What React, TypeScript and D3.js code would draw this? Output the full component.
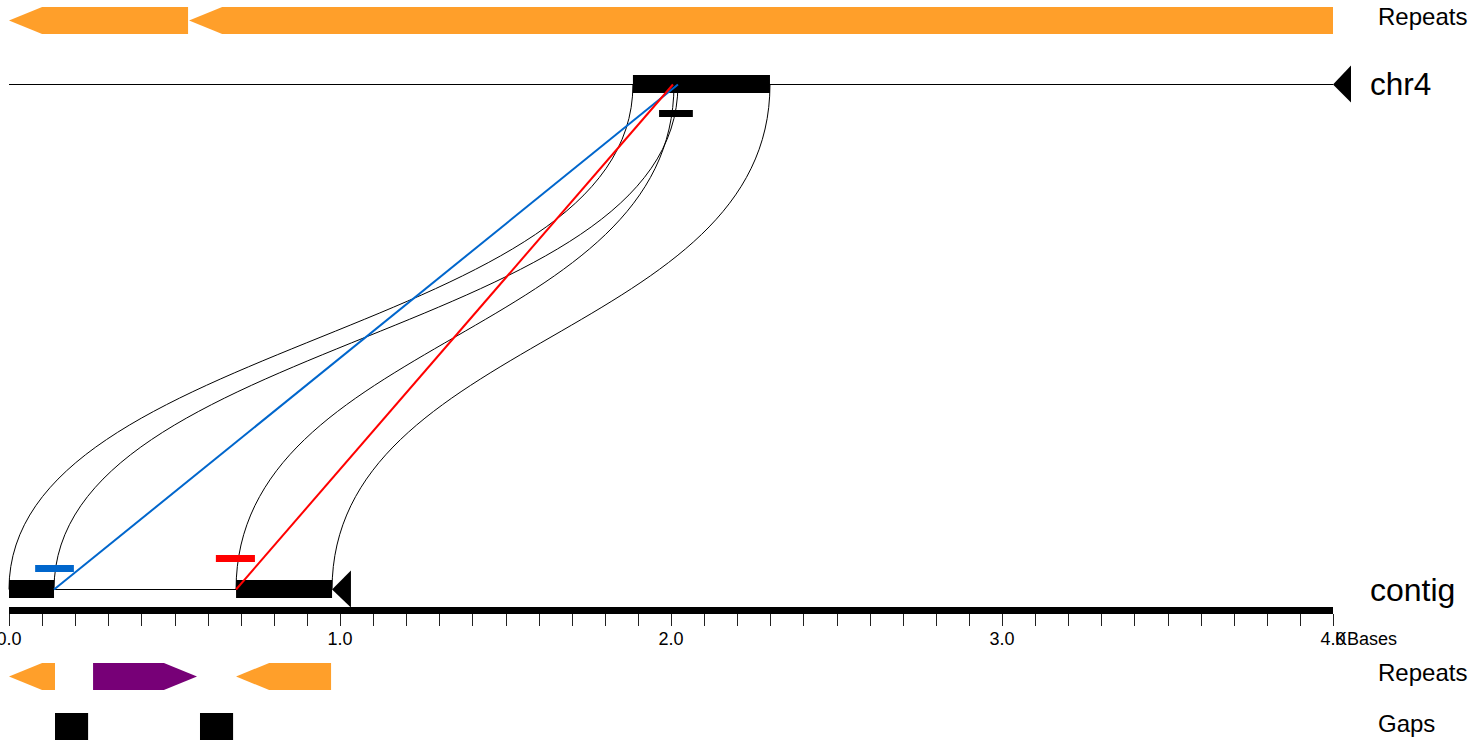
import React from "react";
import * as d3 from "d3";

// ---- data (kilobases) ----
const axisDomain = [0, 4.0];
const tickStep = 0.1;
const majorTicks = [0, 1, 2, 3, 4];

const topRepeats = [
  { start: 0.0, end: 0.541, strand: "-", color: "#FF9F2A" },
  { start: 0.544, end: 4.0, strand: "-", color: "#FF9F2A" },
];
const bottomRepeats = [
  { start: 0.0, end: 0.139, strand: "-", color: "#FF9F2A" },
  { start: 0.254, end: 0.568, strand: "+", color: "#770077" },
  { start: 0.686, end: 0.973, strand: "-", color: "#FF9F2A" },
];
const gaps = [
  { start: 0.139, end: 0.239 },
  { start: 0.577, end: 0.677 },
];

const chr4Blocks = [{ start: 1.885, end: 2.299 }];
const chr4Marks = [{ start: 1.964, end: 2.066 }];
const contigBlocks = [
  { start: 0.0, end: 0.136 },
  { start: 0.686, end: 0.976 },
];
const contigEnd = 1.033;
const contigMarks = [
  { start: 0.079, end: 0.196, color: "#0066CC", level: 1 },
  { start: 0.625, end: 0.743, color: "#FF0000", level: 2 },
];
// ribbons: contig [a0,a1] <-> chr4 [b0,b1]
const ribbons = [
  { a0: 0.0, a1: 0.136, b0: 1.885, b1: 2.021 },
  { a0: 0.686, a1: 0.976, b0: 2.009, b1: 2.299 },
];
const links = [
  { a: 0.136, b: 2.021, color: "#0066CC" },
  { a: 0.686, b: 2.006, color: "#FF0000" },
];

export default function App() {
  const W = 1470, H = 742;
  const x = d3.scaleLinear().domain(axisDomain).range([9, 1333]);
  const head = x(0.1) - x(0);
  const font = "'Liberation Sans', Arial, Helvetica, sans-serif";

  const chrY = 84.5, contigY = 589.5;
  const topRepY0 = 7, topRepY1 = 34;
  const botRepY0 = 663, botRepY1 = 690;
  const gapY0 = 713, gapY1 = 740;

  const arrowPoly = (s: number, e: number, strand: string, y0: number, y1: number) => {
    const x0 = x(s), x1 = x(e), yc = (y0 + y1) / 2;
    const h = Math.min(head, x1 - x0);
    if (strand === "-") {
      return [[x0, yc], [x0 + h, y0], [x1, y0], [x1, y1], [x0 + h, y1]].map(p => p.join(",")).join(" ");
    }
    return [[x0, y0], [x1 - h, y0], [x1, yc], [x1 - h, y1], [x0, y1]].map(p => p.join(",")).join(" ");
  };

  const link = d3.linkVertical<any, any>().x((d: any) => d[0]).y((d: any) => d[1]);

  const ticks = d3.range(0, 41).map(i => +(i * tickStep).toFixed(1));
  const fmt = d3.format(".1f");

  return (
    <svg width={W} height={H} style={{ position: "absolute", left: 0, top: 0, background: "#fff" }} fontFamily={font}>
      {/* top repeats */}
      {topRepeats.map((r, i) => (
        <polygon key={"tr" + i} points={arrowPoly(r.start, r.end, r.strand, topRepY0, topRepY1)} fill={r.color} />
      ))}
      <text x={1378} y={25} fontSize={24} fill="#000">Repeats</text>

      {/* chr4 line */}
      <line x1={x(0)} x2={x(4)} y1={chrY} y2={chrY} stroke="#000" strokeWidth={1} />
      <polygon points={`${x(4)},${chrY} ${x(4) + 18},${chrY - 19} ${x(4) + 18},${chrY + 18}`} fill="#000" />
      <text x={1370} y={95} fontSize={31.5} fill="#000">chr4</text>

      {/* ribbons */}
      {ribbons.map((r, i) => (
        <g key={"rb" + i} fill="none" stroke="#000" strokeWidth={1}>
          <path d={link({ source: [x(r.a0), contigY], target: [x(r.b0), chrY] }) as string} />
          <path d={link({ source: [x(r.a1), contigY], target: [x(r.b1), chrY] }) as string} />
        </g>
      ))}

      {/* chr4 blocks */}
      {chr4Blocks.map((b, i) => (
        <rect key={"cb" + i} x={x(b.start)} y={75} width={x(b.end) - x(b.start)} height={18} fill="#000" />
      ))}
      {chr4Marks.map((b, i) => (
        <rect key={"cm" + i} x={x(b.start)} y={110} width={x(b.end) - x(b.start)} height={7} fill="#000" />
      ))}

      {/* contig */}
      <line x1={x(contigBlocks[0].end)} x2={x(contigBlocks[1].start)} y1={contigY} y2={contigY} stroke="#000" strokeWidth={1} />
      {contigBlocks.map((b, i) => (
        <rect key={"kb" + i} x={x(b.start)} y={580} width={x(b.end) - x(b.start)} height={18} fill="#000" />
      ))}
      <polygon points={`${x(contigBlocks[1].end)},${contigY} ${x(contigEnd)},${contigY - 19} ${x(contigEnd)},${contigY + 18}`} fill="#000" />
      {contigMarks.map((m, i) => (
        <rect key={"km" + i} x={x(m.start)} y={m.level === 1 ? 565 : 555} width={x(m.end) - x(m.start)} height={7} fill={m.color} />
      ))}
      <text x={1370} y={601} fontSize={32} fill="#000">contig</text>

      {/* links */}
      {links.map((l, i) => (
        <line key={"ln" + i} x1={x(l.a)} y1={contigY} x2={x(l.b)} y2={chrY} stroke={l.color} strokeWidth={2} />
      ))}

      {/* axis */}
      <rect x={x(0)} y={607} width={x(4) - x(0)} height={7} fill="#000" />
      {ticks.map((t, i) => {
        const tx = Math.round(x(t)) + 0.5;
        return <line key={"tk" + i} x1={tx} x2={tx} y1={614} y2={626} stroke="#222" strokeWidth={1} />;
      })}
      {majorTicks.map((t, i) => (
        <text key={"tl" + i} x={x(t)} y={645} fontSize={18} textAnchor="middle" fill="#000">{fmt(t)}</text>
      ))}
      <text x={1335} y={645} fontSize={18} fill="#000">KBases</text>

      {/* bottom repeats */}
      {bottomRepeats.map((r, i) => (
        <polygon key={"br" + i} points={arrowPoly(r.start, r.end, r.strand, botRepY0, botRepY1)} fill={r.color} />
      ))}
      <text x={1378} y={681} fontSize={24} fill="#000">Repeats</text>

      {/* gaps */}
      {gaps.map((g, i) => (
        <rect key={"gp" + i} x={x(g.start)} y={gapY0} width={x(g.end) - x(g.start)} height={gapY1 - gapY0} fill="#000" />
      ))}
      <text x={1378} y={732} fontSize={24} fill="#000">Gaps</text>
    </svg>
  );
}
